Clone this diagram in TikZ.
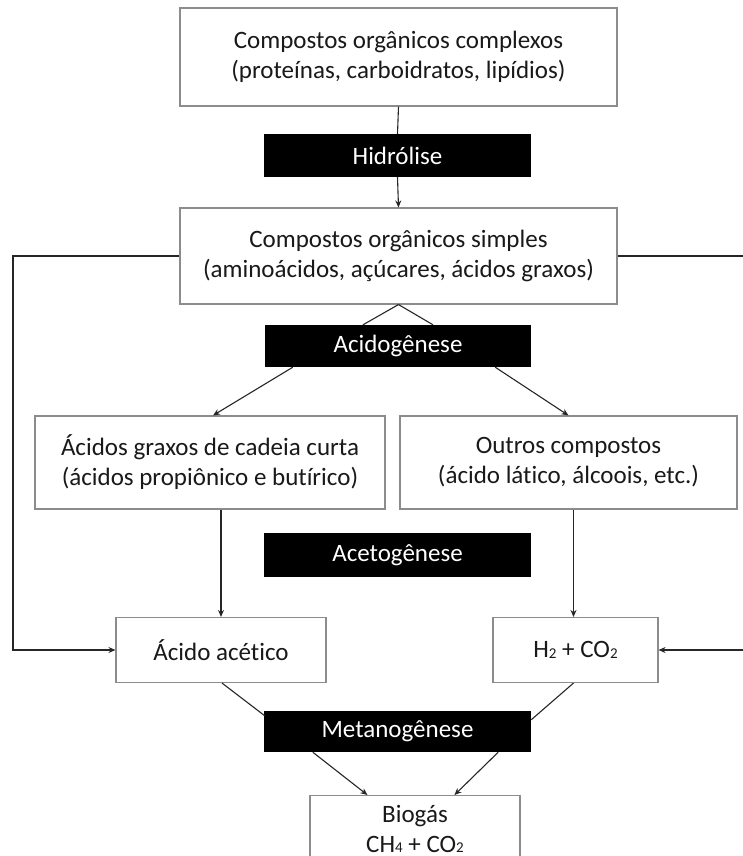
\documentclass[tikz,border=0pt]{standalone}
\usepackage{fontspec}
\setmainfont[Ligatures=NoCommon]{Carlito}
\usetikzlibrary{arrows.meta,calc}
\newcommand{\lowsub}[1]{\raisebox{-0.5pt}{\fontsize{15}{15}\selectfont #1}}
\begin{document}
\begin{tikzpicture}[x=1pt,y=-1pt,
  box/.style={draw=black!45,line width=1.1pt,fill=white,inner sep=0pt,align=center,
    font=\fontsize{25}{30}\selectfont,text=black!90},
  phase/.style={fill=black,inner sep=0pt,align=center,text=white,
    font=\fontsize{25}{30}\selectfont},
  conn/.style={draw=black!85,line width=1.1pt},
  arr/.style={conn,-{Stealth[length=7pt,width=6pt]}}]
\useasboundingbox (0,0) rectangle (743,856);
\node[box,minimum width=437,minimum height=98] (top) at (398.5,57)
  {Compostos orgânicos complexos\\(proteínas, carboidratos, lipídios)};
\node[phase,minimum width=267,minimum height=43] (hid) at (397.5,155.5) {Hidrólise};
\node[box,minimum width=437,minimum height=96] (simp) at (398.5,256)
  {Compostos orgânicos simples\\(aminoácidos, açúcares, ácidos graxos)};
\node[phase,minimum width=266,minimum height=42] (acid) at (398,346) {Acidogênese};
\node[box,minimum width=350,minimum height=93] (agcc) at (210,462.5)
  {Ácidos graxos de cadeia curta\\(ácidos propiônico e butírico)};
\node[box,minimum width=337,minimum height=93] (outros) at (568.5,462.5)
  {Outros compostos\\(ácido lático, álcoois, etc.)};
\node[phase,minimum width=267,minimum height=44] (aceto) at (397.5,555) {Acetogênese};
\node[box,minimum width=210,minimum height=65] (acet) at (221,650) {Ácido acético};
\node[box,minimum width=165,minimum height=65] (h2) at (575.5,650)
  {H\lowsub{2} + CO\lowsub{2}};
\node[box,minimum width=210,minimum height=67,anchor=north] (bio) at (415,795)
  {Biogás\\CH\lowsub{4} + CO\lowsub{2}};
\node[phase,minimum width=267,minimum height=41] (metano) at (397.5,731.5) {Metanogênese};
\coordinate (lc) at (13,0);
\coordinate (rc) at (746,0);
% hydrolysis
\draw[conn] (top.south) -- (hid.north);
\draw[arr] (hid.south) -- (simp.north);
% acidogenesis
\draw[conn] (simp.south) -- ($(acid.north)+(-35,0)$);
\draw[conn] (simp.south) -- ($(acid.north)+(35,0)$);
\draw[arr] ($(acid.south west)+(28,0)$) -- ($(agcc.north)+(3,0)$);
\draw[arr] ($(acid.south east)+(-36,0)$) -- (outros.north);
% acetogenesis
\draw[arr] (agcc.south -| acet.north) -- (acet.north);
\draw[arr] ($(outros.south -| h2.north)+(-2,0)$) -- ($(h2.north)+(-2,0)$);
% side loops
\draw[arr] (simp.west) -- (simp.west -| lc) |- (acet.west);
\draw[conn] (simp.east) -- (simp.east -| rc);
\draw[arr] (h2.east -| rc) -- (h2.east);
% methanogenesis
\draw[conn] ($(acet.south)+(1,0)$) -- ($(metano.north west)+(1,5)$);
\draw[conn] ($(h2.south)+(-2,0)$) -- ($(metano.north east)+(0,9)$);
\draw[arr] ($(metano.south west)+(49,0)$) -- ($(bio.north west)+(58,0)$);
\draw[arr] ($(metano.south east)+(-33,0)$) -- ($(bio.north west)+(145,0)$);
\end{tikzpicture}
\end{document}
